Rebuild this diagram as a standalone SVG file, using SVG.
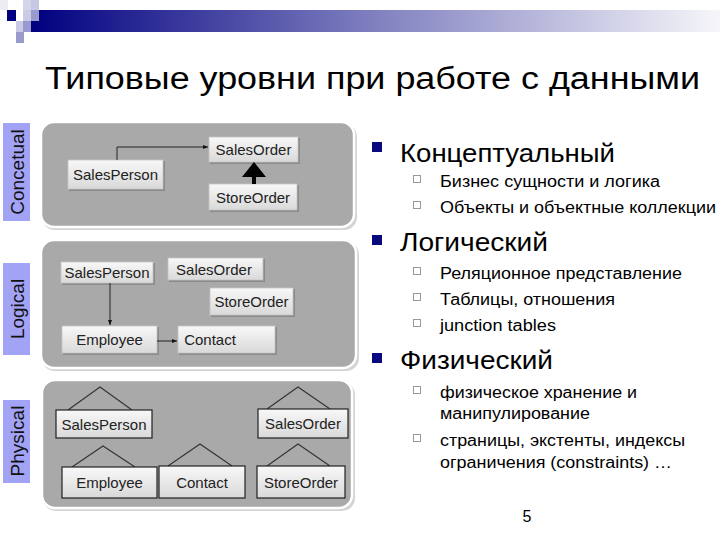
<svg xmlns="http://www.w3.org/2000/svg" width="720" height="540" viewBox="0 0 720 540">
<defs>
<linearGradient id="bar" x1="0" y1="0" x2="1" y2="0">
<stop offset="0" stop-color="#000080"/>
<stop offset="0.5" stop-color="#8080c0"/>
<stop offset="1" stop-color="#f6f6fa"/>
</linearGradient>
<linearGradient id="box" x1="0" y1="0" x2="0" y2="1">
<stop offset="0" stop-color="#f8f8f8"/>
<stop offset="1" stop-color="#d9d9d9"/>
</linearGradient>
<marker id="ah" viewBox="0 0 10 10" refX="10" refY="5" markerWidth="5" markerHeight="5" orient="auto">
<path d="M0,1 L10,5 L0,9 z" fill="#111"/>
</marker>
</defs>
<style>
text{font-family:"Liberation Sans",Arial,sans-serif;}
.panel{fill:#a9a9a9;stroke:#fff;stroke-width:2.5;}
.pshadow{fill:#d4d4d4;}
.b{fill:url(#box);stroke:#c4c4c4;stroke-width:0.8;}
.bs{fill:#8a8a8a;}
.pb{fill:url(#box);stroke:#222;stroke-width:1.2;}
.bt{font-size:15px;fill:#222;text-anchor:middle;}
.lab{fill:#a3a3f5;}
.lt{font-size:19px;fill:#111;text-anchor:middle;}
.con{fill:none;stroke:#222;stroke-width:1;}
.tri{fill:none;stroke:#333;stroke-width:1.1;}
.h1{font-size:25px;fill:#000;}
.h2{font-size:16px;fill:#000;}
.sq{fill:#0a0a80;}
.hsq{fill:#fff;stroke:#999;stroke-width:1;}
</style>
<rect width="720" height="540" fill="#fff"/>
<g id="header">
<rect x="31" y="10" width="689" height="22" fill="url(#bar)"/>
<rect x="0" y="0" width="8" height="10" fill="#ececf2"/>
<rect x="23" y="0" width="8" height="10" fill="#d4d4ea"/>
<rect x="31" y="0" width="8" height="10" fill="#c8c8e2"/>
<rect x="7" y="10" width="9" height="11" fill="#000080"/>
<rect x="23" y="10" width="8" height="11" fill="#cacae6"/>
<rect x="31" y="10" width="8" height="11" fill="#9a9ace"/>
<rect x="16" y="21" width="7" height="11" fill="#cacae6"/>
<rect x="23" y="21" width="8" height="11" fill="#9a9ace"/>
<rect x="16" y="32" width="8" height="11" fill="#9a9ace"/>
</g>
<text id="title" x="45" y="89" font-size="31" fill="#000" textLength="655" lengthAdjust="spacingAndGlyphs">Типовые уровни при работе с данными</text>

<g id="label-conceptual"><rect class="lab" x="3" y="123" width="27" height="98"/><text class="lt" transform="translate(23.5,172) rotate(-90)">Concetual</text></g>
<g id="label-logical"><rect class="lab" x="3" y="263" width="27" height="92"/><text class="lt" transform="translate(23.5,309) rotate(-90)">Logical</text></g>
<g id="label-physical"><rect class="lab" x="3" y="400" width="27" height="83"/><text class="lt" transform="translate(23.5,441) rotate(-90)">Physical</text></g>

<g id="panel-conceptual"><rect class="pshadow" x="42" y="124" width="315" height="106" rx="13"/><rect class="panel" x="41" y="122" width="313" height="105" rx="13"/></g>
<g id="panel-logical"><rect class="pshadow" x="42" y="242" width="317" height="129" rx="13"/><rect class="panel" x="41" y="240" width="315" height="128" rx="13"/></g>
<g id="panel-physical"><rect class="pshadow" x="43" y="382" width="312" height="129" rx="13"/><rect class="panel" x="42" y="380" width="310" height="128" rx="13"/></g>

<g id="c-salesperson"><rect class="bs" x="69" y="161" width="96" height="30"/><rect class="b" x="68" y="160" width="95" height="29"/><text class="bt" x="115.5" y="180">SalesPerson</text></g>
<g id="c-salesorder"><rect class="bs" x="210" y="138" width="90" height="26"/><rect class="b" x="209" y="137" width="89" height="25"/><text class="bt" x="253.5" y="155">SalesOrder</text></g>
<g id="c-storeorder"><rect class="bs" x="210" y="185" width="89" height="27"/><rect class="b" x="209" y="184" width="88" height="26"/><text class="bt" x="253" y="202.5">StoreOrder</text></g>

<g id="l-salesperson"><rect class="bs" x="62" y="263" width="93" height="22"/><rect class="b" x="61" y="262" width="92" height="21"/><text class="bt" x="107" y="278">SalesPerson</text></g>
<g id="l-salesorder"><rect class="bs" x="169" y="259" width="96" height="23"/><rect class="b" x="168" y="258" width="95" height="22"/><text class="bt" x="214" y="274.5">SalesOrder</text></g>
<g id="l-storeorder"><rect class="bs" x="211" y="289" width="84" height="28"/><rect class="b" x="210" y="288" width="83" height="27"/><text class="bt" x="251.5" y="306.5">StoreOrder</text></g>
<g id="l-employee"><rect class="bs" x="63" y="327" width="96" height="28"/><rect class="b" x="62" y="326" width="95" height="27"/><text class="bt" x="109.5" y="345">Employee</text></g>
<g id="l-contact"><rect class="bs" x="179" y="327" width="98" height="28"/><rect class="b" x="178" y="326" width="97" height="27"/><text class="bt" x="210" y="345">Contact</text></g>

<g id="p-salesperson"><path class="tri" d="M68,410 L100,387 L132,410"/><rect class="pb" x="56" y="410" width="96" height="28"/><text class="bt" x="104" y="429.5">SalesPerson</text></g>
<g id="p-salesorder"><path class="tri" d="M267,409 L298,387 L330,409"/><rect class="pb" x="258" y="409" width="90" height="29"/><text class="bt" x="303" y="429">SalesOrder</text></g>
<g id="p-employee"><path class="tri" d="M72,467 L103,446 L135,467"/><rect class="pb" x="62" y="467" width="95" height="31"/><text class="bt" x="109.5" y="488">Employee</text></g>
<g id="p-contact"><path class="tri" d="M168,466 L200,444 L232,466"/><rect class="pb" x="159" y="466" width="86" height="32"/><text class="bt" x="202" y="487.5">Contact</text></g>
<g id="p-storeorder"><path class="tri" d="M267,466 L298,444 L330,466"/><rect class="pb" x="257" y="466" width="88" height="32"/><text class="bt" x="301" y="487.5">StoreOrder</text></g>

<g id="connectors">
<path class="con" d="M117,160 V147 H208" marker-end="url(#ah)"/>
<path d="M254,162 L242,177 L266,177 Z" fill="#000"/>
<rect x="252" y="176" width="4" height="8" fill="#000"/>
<path class="con" d="M110,283 V325" marker-end="url(#ah)"/>
<path class="con" d="M157,341 H177" marker-end="url(#ah)"/>
</g>

<g id="bullets">
<rect class="sq" x="372" y="142" width="10" height="10"/>
<text class="h1" x="400" y="162" textLength="215" lengthAdjust="spacingAndGlyphs">Концептуальный</text>
<rect class="hsq" x="413.5" y="175.5" width="7" height="7"/>
<text class="h2" x="440" y="187" textLength="220" lengthAdjust="spacingAndGlyphs">Бизнес сущности и логика</text>
<rect class="hsq" x="413.5" y="201.5" width="7" height="7"/>
<text class="h2" x="440" y="213" textLength="276" lengthAdjust="spacingAndGlyphs">Объекты и объектные коллекции</text>

<rect class="sq" x="372" y="235" width="10" height="10"/>
<text class="h1" x="400" y="251" textLength="148" lengthAdjust="spacingAndGlyphs">Логический</text>
<rect class="hsq" x="413.5" y="267.5" width="7" height="7"/>
<text class="h2" x="440" y="279" textLength="242" lengthAdjust="spacingAndGlyphs">Реляционное представление</text>
<rect class="hsq" x="413.5" y="293.5" width="7" height="7"/>
<text class="h2" x="440" y="305" textLength="175" lengthAdjust="spacingAndGlyphs">Таблицы, отношения</text>
<rect class="hsq" x="413.5" y="319.5" width="7" height="7"/>
<text class="h2" x="440" y="331" textLength="116" lengthAdjust="spacingAndGlyphs">junction tables</text>

<rect class="sq" x="372" y="353" width="10" height="10"/>
<text class="h1" x="400" y="369" textLength="153" lengthAdjust="spacingAndGlyphs">Физический</text>
<rect class="hsq" x="413.5" y="386.5" width="7" height="7"/>
<text class="h2" x="440" y="398" textLength="197" lengthAdjust="spacingAndGlyphs">физическое хранение и</text>
<text class="h2" x="440" y="419" textLength="150" lengthAdjust="spacingAndGlyphs">манипулирование</text>
<rect class="hsq" x="413.5" y="434.5" width="7" height="7"/>
<text class="h2" x="440" y="446" textLength="245" lengthAdjust="spacingAndGlyphs">страницы, экстенты, индексы</text>
<text class="h2" x="440" y="468" textLength="232" lengthAdjust="spacingAndGlyphs">ограничения (constraints) …</text>
</g>
<text id="page" x="527" y="522" font-size="16" fill="#000" text-anchor="middle">5</text>
</svg>
